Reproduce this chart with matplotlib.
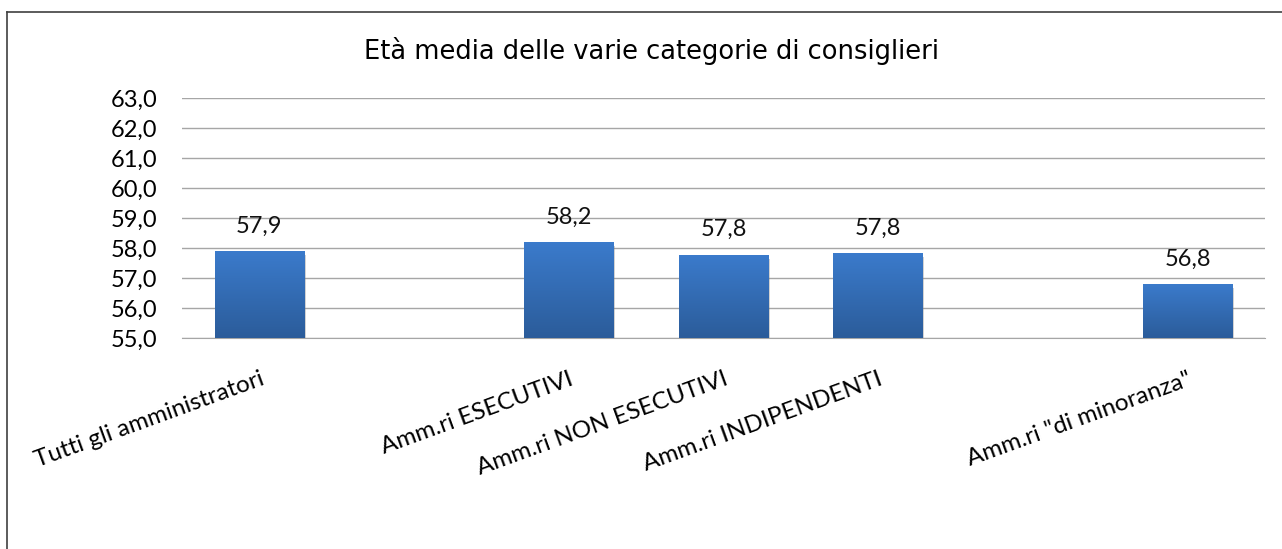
import matplotlib.pyplot as plt
import numpy as np
from matplotlib.lines import Line2D
from matplotlib import patheffects as pe

# data (two empty slots as in the source sheet)
categories = ["Tutti gli amministratori", "", "Amm.ri ESECUTIVI", "Amm.ri NON ESECUTIVI",
              "Amm.ri INDIPENDENTI", "", "Amm.ri \"di minoranza\""]
values = [57.9, np.nan, 58.2, 57.78, 57.84, np.nan, 56.8]
yticks = [55, 56, 57, 58, 59, 60, 61, 62, 63]
title = "Età media delle varie categorie di consiglieri"

fig = plt.figure(figsize=(12.82, 5.49), dpi=100)
ax = fig.add_axes([0.142, 0.3843, 0.8447, 0.4372])

x = np.arange(len(categories))
bars = ax.bar(x, values, width=0.58, color="#3572c0", zorder=3,
              path_effects=[pe.SimplePatchShadow(offset=(1, -3), shadow_rgbFace="#808080", alpha=0.35),
                            pe.Normal()])

# vertical gradient on each bar
grad = np.linspace(0, 1, 256).reshape(-1, 1)
cmap = plt.matplotlib.colors.LinearSegmentedColormap.from_list("b", ["#2b5c9a", "#3b7bcc"])
for b, v in zip(bars, values):
    if np.isnan(v):
        continue
    x0, w = b.get_x(), b.get_width()
    im = ax.imshow(grad, cmap=cmap, extent=[x0, x0 + w, 55, v], origin="lower",
                   aspect="auto", zorder=4)
    im.set_clip_path(b)
    ax.text(x0 + w / 2, v + 0.48, f"{v:.1f}".replace(".", ","), ha="center", va="bottom",
            fontsize=17, family="Lato", color="#111111", zorder=5)

ax.set_xlim(-0.5, len(categories) - 0.5)
ax.set_ylim(55, 63)
ax.set_yticks(yticks)
ax.set_yticklabels([f"{t:.1f}".replace(".", ",") for t in yticks], fontsize=17, family="Lato")
ax.yaxis.grid(True, color="#a6a6a6", lw=1, zorder=0)
ax.set_axisbelow(True)
for s in ["top", "right", "left"]:
    ax.spines[s].set_visible(False)
ax.spines["bottom"].set_color("#a6a6a6")
ax.tick_params(axis="both", length=0)
ax.tick_params(axis="y", pad=18)
ax.set_xticks(x)
ax.set_xticklabels(categories, rotation=20, ha="right", va="top", rotation_mode="anchor",
                   fontsize=17.5, family="Lato")
ax.tick_params(axis="x", pad=22)

fig.text(0.508, 0.907, title, ha="center", va="center", fontsize=18.5, family="DejaVu Sans")

# chart frame
fig.add_artist(Line2D([0.0055, 1.0], [0.978, 0.978], transform=fig.transFigure, color="#404040", lw=1.2))
fig.add_artist(Line2D([0.0058, 0.0058], [0.0, 0.978], transform=fig.transFigure, color="#404040", lw=1.2))

fig.savefig("out.png", dpi=100)
